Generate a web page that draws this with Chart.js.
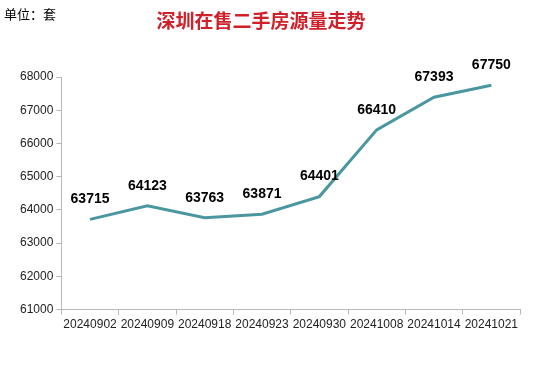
<!DOCTYPE html>
<html>
<head>
<meta charset="utf-8">
<script src="https://cdn.jsdelivr.net/npm/chart.js@4"></script>
<style>
    html, body { margin: 0; padding: 0; background: #fff; }
    #wrap { position: relative; width: 536px; height: 365px; }
    #unit { position: absolute; left: 4px; top: 4px; font: 13px "Noto Sans CJK SC", sans-serif; color: #000; }
    #title { position: absolute; left: 0; width: 522px; top: 6px; text-align: center;
             font: bold 19px "Noto Sans CJK SC", serif; color: #d0202a; }
</style>
</head>
<body>
<div id="wrap">
    <canvas id="chart" width="536" height="365"></canvas>
    <div id="unit">单位：套</div>
    <div id="title">深圳在售二手房源量走势</div>
</div>
<script>
// Data
const dates = ['20240902', '20240909', '20240918', '20240923', '20240930', '20241008', '20241014', '20241021'];
const listings = [63715, 64123, 63763, 63871, 64401, 66410, 67393, 67750];
const yMin = 61000;
const yMax = 68000;
const yStep = 1000;

// Draw value labels above each point
const valueLabels = {
    id: 'valueLabels',
    afterDatasetsDraw(chart) {
        const ctx = chart.ctx;
        const meta = chart.getDatasetMeta(0);
        ctx.save();
        ctx.font = 'bold 14px "Liberation Sans", Arial, sans-serif';
        ctx.fillStyle = '#000';
        ctx.textAlign = 'center';
        ctx.textBaseline = 'middle';
        meta.data.forEach((pt, i) => {
            ctx.fillText(listings[i], pt.x, pt.y - 20);
        });
        ctx.restore();
    }
};

const tickFont = { family: '"Liberation Sans", Arial, sans-serif', size: 12 };

const ctx = document.getElementById('chart').getContext('2d');
new Chart(ctx, {
    type: 'line',
    data: {
        labels: dates,
        datasets: [{
            data: listings,
            borderColor: '#4a979f',
            borderWidth: 3,
            pointRadius: 0,
            tension: 0,
            fill: false
        }]
    },
    options: {
        responsive: false,
        animation: false,
        layout: {
            padding: { left: 17, right: 16, top: 77, bottom: 30 }
        },
        plugins: {
            legend: { display: false },
            tooltip: { enabled: false }
        },
        scales: {
            x: {
                offset: true,
                grid: {
                    display: true,
                    drawOnChartArea: false,
                    tickLength: 5,
                    color: '#b8b8b8',
                    offset: true
                },
                border: { color: '#b8b8b8' },
                ticks: {
                    color: '#222',
                    font: tickFont,
                    maxRotation: 0,
                    autoSkip: false,
                    padding: 3
                }
            },
            y: {
                min: yMin,
                max: yMax,
                grid: {
                    display: true,
                    drawOnChartArea: false,
                    tickLength: 5,
                    color: '#b8b8b8'
                },
                border: { color: '#b8b8b8' },
                ticks: {
                    stepSize: yStep,
                    color: '#222',
                    font: tickFont,
                    padding: 3,
                    callback: (value) => String(value)
                }
            }
        }
    },
    plugins: [valueLabels]
});
</script>
</body>
</html>
